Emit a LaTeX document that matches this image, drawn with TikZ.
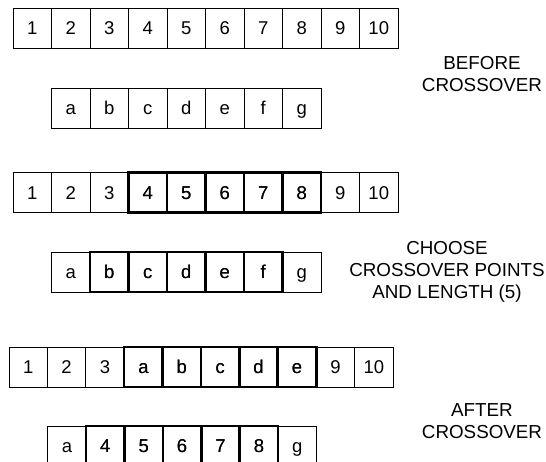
\documentclass[tikz,border=0pt]{standalone}
\usepackage{fontspec}
\setmainfont{Liberation Sans}
\begin{document}
\begin{tikzpicture}[x=1pt,y=-1pt,
  cell/.style={draw,line width=0.9pt,minimum width=38.5pt,minimum height=40pt,inner sep=0pt,
    text height=13.2pt,text depth=0pt,font=\fontsize{18.5}{21}\selectfont},
  picked/.style={cell,line width=2.6pt},
  caption/.style={align=center,font=\fontsize{18.8}{21.8}\selectfont}]
\clip (0,0) rectangle (546,462);
% parents before crossover
\foreach \t [count=\i] in {1,...,10}
  \node[cell] (pa\i) at (13+38.5*\i-19.25,28) {\t};
\foreach \t [count=\i] in {a,b,c,d,e,f,g}
  \node[cell] (pb\i) at (51.5+38.5*\i-19.25,108) {\t};
\node[caption] (before) at (482,74) {BEFORE\\CROSSOVER};
% crossover points
\foreach \t [count=\i] in {1,2,3,4,5,6,7,8,9,10}
  \node[cell] (sa\i) at (13+38.5*\i-19.25,192.5) {\t};
\foreach \i in {4,...,8}
  \node[picked] (ta\i) at (sa\i) {\i};
\foreach \t [count=\i] in {a,b,c,d,e,f,g}
  \node[cell] (sb\i) at (51.5+38.5*\i-19.25,272) {\t};
\foreach \t [count=\i from 2] in {b,c,d,e,f}
  \node[picked] (tb\i) at (sb\i) {\t};
\node[caption] (choose) at (447,272) {CHOOSE\\CROSSOVER POINTS\\AND LENGTH (5)};
% children after crossover
\foreach \t [count=\i] in {1,2,3,a,b,c,d,e,9,10}
  \node[cell] (ca\i) at (9+38.4*\i-19.2,367) {\t};
\foreach \t [count=\i from 4] in {a,b,c,d,e}
  \node[picked] (da\i) at (ca\i) {\t};
\foreach \t [count=\i] in {a,4,5,6,7,8,g}
  \node[cell] (cb\i) at (47.7+38.4*\i-19.2,446) {\t};
\foreach \t [count=\i from 2] in {4,5,6,7,8}
  \node[picked] (db\i) at (cb\i) {\t};
\node[caption] (after) at (482,421) {AFTER\\CROSSOVER};
\end{tikzpicture}
\end{document}
